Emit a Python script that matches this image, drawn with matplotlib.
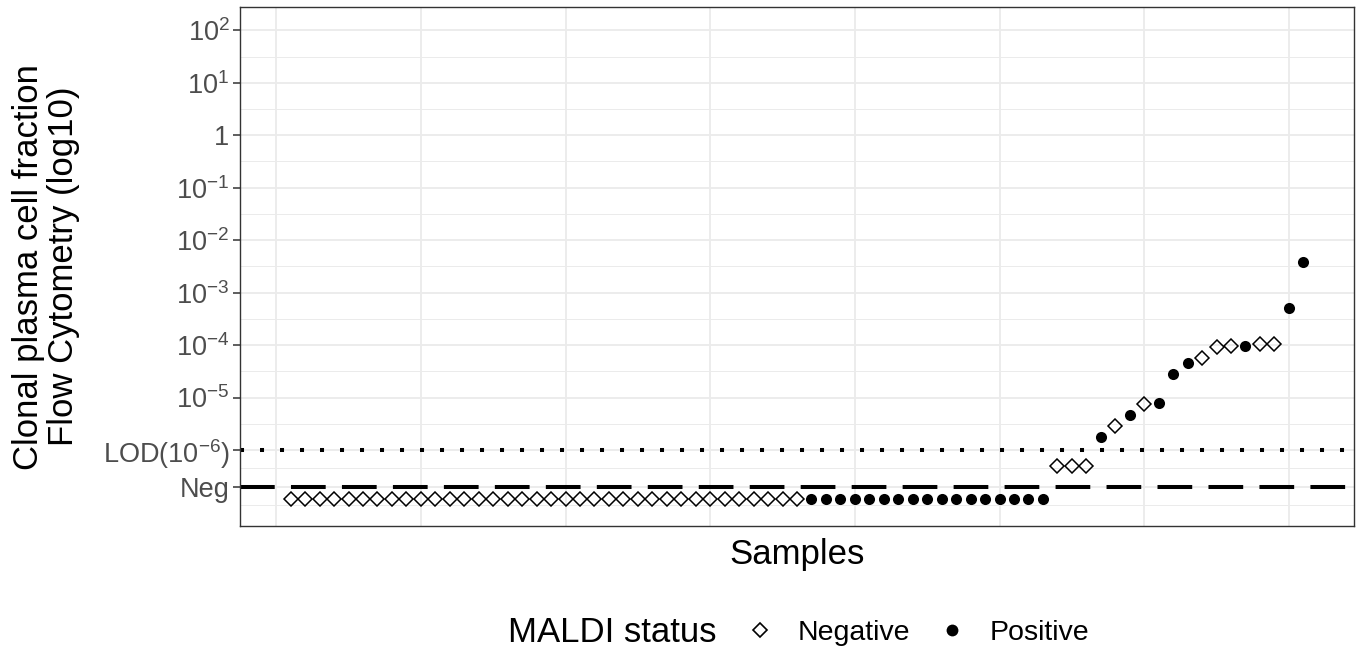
import numpy as np
import matplotlib
matplotlib.use("Agg")
import matplotlib.pyplot as plt
from matplotlib.lines import Line2D

plt.rcParams['font.family'] = ['Liberation Sans', 'DejaVu Sans']
plt.rcParams['mathtext.fontset'] = 'custom'
plt.rcParams['mathtext.rm'] = 'Liberation Sans'
plt.rcParams['mathtext.it'] = 'Liberation Sans:italic'
plt.rcParams['mathtext.bf'] = 'Liberation Sans:bold'
plt.rcParams['lines.scale_dashes'] = False

# MALDI status per sample (ordered by flow value), N = negative, P = positive
maldi_status = (["N"] * 36 + ["P"] * 17 +
                ["N", "N", "N", "P", "N", "P", "N", "P", "P", "P",
                 "N", "N", "N", "P", "N", "N", "P", "P"])
# clonal plasma cell fraction by flow cytometry
flow_values = ([1.15e-7] * 53 +
               [4.9e-7, 4.9e-7, 4.9e-7, 1.8e-6, 2.8e-6, 4.7e-6, 7.4e-6, 7.8e-6,
                2.8e-5, 4.5e-5, 5.6e-5, 9.3e-5, 9.5e-5, 9.5e-5, 1.07e-4, 1.07e-4,
                5.2e-4, 3.9e-3])

lod_value = 1e-6
neg_value = 10 ** -6.7
y_breaks = [1e2, 1e1, 1, 1e-1, 1e-2, 1e-3, 1e-4, 1e-5, lod_value, neg_value]
y_labels = [r'$10^{2}$', r'$10^{1}$', '1', r'$10^{-1}$', r'$10^{-2}$', r'$10^{-3}$',
            r'$10^{-4}$', r'$10^{-5}$', r'LOD($10^{-6}$)', 'Neg']
y_minor = [10 ** 1.5, 10 ** 0.5, 10 ** -0.5, 10 ** -1.5, 10 ** -2.5, 10 ** -3.5,
           10 ** -4.5, 10 ** -5.5, 10 ** -6.35, 10 ** -7.05]

samples = np.arange(1, len(flow_values) + 1)
status = np.array(maldi_status)
vals = np.array(flow_values)

W, H = 1363, 656
fig = plt.figure(figsize=(W / 100, H / 100), dpi=100)
ax = fig.add_axes([240 / W, 1 - 526 / H, (1354 - 240) / W, (526 - 7.3) / H])

ax.set_yscale('log')
ax.set_ylim(10 ** -7.45, 10 ** 2.44)
ax.set_xlim(-2.5, 74.5)

grid = '#ebebeb'
ax.set_yticks(y_breaks)
ax.set_yticklabels(y_labels)
ax.set_yticks(y_minor, minor=True)
ax.set_xticks(range(0, 71, 10))
ax.set_xticklabels([])
ax.grid(which='major', color=grid, lw=1.3, zorder=0)
ax.grid(which='minor', axis='y', color=grid, lw=0.7, zorder=0)
ax.set_axisbelow(True)
ax.tick_params(axis='y', which='major', length=5, width=1.1, color='#333333',
               labelsize=19.5, labelcolor='#4d4d4d', pad=2.5)
ax.tick_params(axis='y', which='minor', length=0)
ax.tick_params(axis='x', length=0)
for s in ax.spines.values():
    s.set_color('#333333')
    s.set_linewidth(1.0)

ax.axhline(lod_value, color='black', lw=2.9, linestyle=(0, (2.9, 11.5)), zorder=2)
ax.axhline(neg_value, color='black', lw=2.9, linestyle=(0, (25, 11.7)), zorder=2)

neg = status == "N"
pos = status == "P"
ax.plot(samples[neg], vals[neg], linestyle='none', marker='D', markersize=7.0,
        markerfacecolor='none', markeredgecolor='black', markeredgewidth=1.1, zorder=3)
ax.plot(samples[pos], vals[pos], linestyle='none', marker='o', markersize=8,
        markerfacecolor='black', markeredgewidth=0, zorder=3)

fig.text(46 / W, 1 - 266.6 / H, "Clonal plasma cell fraction\nFlow Cytometry (log10)",
         rotation=90, ha='center', va='center', fontsize=25, linespacing=1.05)
fig.text(797 / W, 1 - 564 / H, "Samples", ha='center', va='baseline', fontsize=25)

fig.text(508 / W, 1 - 633 / H, "MALDI status", ha='left', va='center', fontsize=25)
handles = [Line2D([], [], linestyle='none', marker='D', markersize=7.5,
                  markerfacecolor='none', markeredgecolor='black', markeredgewidth=1.2),
           Line2D([], [], linestyle='none', marker='o', markersize=8.5,
                  markerfacecolor='black', markeredgewidth=0)]
fig.legend(handles, ["Negative", "Positive"], loc='center left',
           bbox_to_anchor=(746 / W, 1 - 633 / H), ncol=2, frameon=False,
           fontsize=20.5, handlelength=1.0, handletextpad=0.8, columnspacing=1.0,
           borderpad=0, borderaxespad=0)

fig.savefig("out.png", dpi=100)
